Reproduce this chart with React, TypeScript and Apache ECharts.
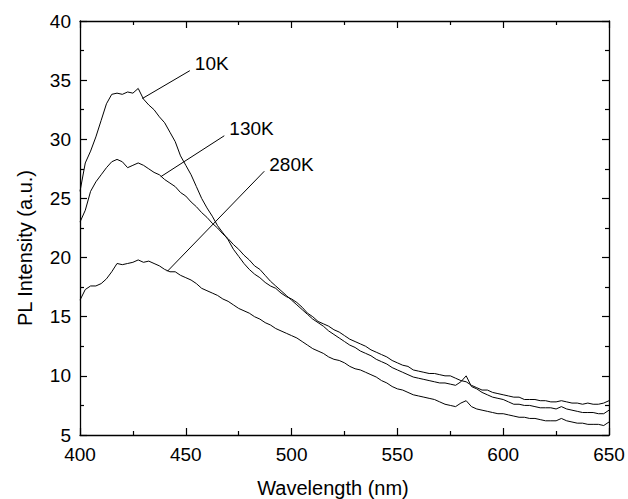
import React, { useEffect, useRef } from "react";
import * as echarts from "echarts";

const wavelengths = [
  400, 402.5, 405, 407.5, 410, 412.5, 415, 417.5, 420, 422.5,
  425, 427.5, 430, 432.5, 435, 437.5, 440, 442.5, 445, 447.5,
  450, 452.5, 455, 457.5, 460, 462.5, 465, 467.5, 470, 472.5,
  475, 477.5, 480, 482.5, 485, 487.5, 490, 492.5, 495, 497.5,
  500, 502.5, 505, 507.5, 510, 512.5, 515, 517.5, 520, 522.5,
  525, 527.5, 530, 532.5, 535, 537.5, 540, 542.5, 545, 547.5,
  550, 552.5, 555, 557.5, 560, 562.5, 565, 567.5, 570, 572.5,
  575, 577.5, 580, 582.5, 585, 587.5, 590, 592.5, 595, 597.5,
  600, 602.5, 605, 607.5, 610, 612.5, 615, 617.5, 620, 622.5,
  625, 627.5, 630, 632.5, 635, 637.5, 640, 642.5, 645, 647.5,
  650,
];

const pl10K = [
  25.6, 28.0, 29.0, 30.2, 31.6, 33.0, 33.8, 33.9, 33.8, 34.0,
  33.9, 34.3, 33.4, 32.9, 32.5, 31.9, 31.4, 30.6, 29.8, 28.6,
  27.8, 27.0, 26.0, 25.0, 24.2, 23.5, 22.7, 22.1, 21.5, 20.7,
  20.1, 19.5, 19.0, 18.6, 18.3, 17.9, 17.6, 17.4, 17.0, 16.7,
  16.5, 16.2, 15.8, 15.3, 15.0, 14.6, 14.4, 14.2, 13.9, 13.7,
  13.4, 13.1, 12.9, 12.7, 12.5, 12.2, 12.0, 11.8, 11.6, 11.3,
  11.1, 10.9, 10.8, 10.5, 10.4, 10.3, 10.2, 10.2, 10.1, 10.0,
  10.0, 9.8, 9.6, 9.5, 9.2, 9.0, 8.8, 8.8, 8.6, 8.5,
  8.4, 8.3, 8.2, 8.2, 8.0, 8.0, 8.0, 7.9, 7.9, 7.8,
  7.8, 7.9, 7.8, 7.7, 7.7, 7.6, 7.7, 7.6, 7.6, 7.7,
  7.9,
];

const pl130K = [
  23.0, 24.0, 25.6, 26.4, 27.0, 27.6, 28.1, 28.3, 28.1, 27.6,
  27.8, 28.0, 27.8, 27.5, 27.2, 27.0, 26.6, 26.3, 26.0, 25.5,
  25.2, 24.7, 24.3, 23.8, 23.4, 22.9, 22.5, 22.0, 21.6, 21.1,
  20.7, 20.2, 19.8, 19.3, 19.0, 18.5, 18.0, 17.6, 17.2, 16.8,
  16.4, 16.0, 15.6, 15.2, 14.8, 14.5, 14.2, 13.8, 13.5, 13.2,
  12.9, 12.6, 12.4, 12.1, 11.9, 11.7, 11.4, 11.2, 11.0, 10.7,
  10.5, 10.3, 10.1, 9.9, 9.8, 9.7, 9.6, 9.5, 9.4, 9.4,
  9.3, 9.2, 9.5, 10.0, 9.1, 8.9, 8.6, 8.4, 8.2, 8.1,
  8.0, 7.8, 7.6, 7.6, 7.5, 7.5, 7.4, 7.3, 7.3, 7.3,
  7.2, 7.4, 7.2, 7.1, 7.0, 6.9, 6.9, 6.9, 6.8, 6.8,
  7.1,
];

const pl280K = [
  16.4, 17.3, 17.6, 17.6, 17.8, 18.2, 18.8, 19.5, 19.4, 19.5,
  19.6, 19.8, 19.6, 19.7, 19.5, 19.3, 19.0, 18.8, 18.8, 18.5,
  18.3, 18.1, 17.8, 17.4, 17.2, 17.0, 16.8, 16.5, 16.3, 16.0,
  15.7, 15.5, 15.3, 15.0, 14.8, 14.5, 14.3, 14.0, 13.8, 13.6,
  13.4, 13.2, 12.9, 12.6, 12.3, 12.1, 11.9, 11.6, 11.4, 11.3,
  11.1, 10.8, 10.6, 10.5, 10.3, 10.1, 9.9, 9.6, 9.4, 9.1,
  8.9, 8.8, 8.6, 8.4, 8.3, 8.2, 8.1, 8.0, 7.8, 7.6,
  7.5, 7.4, 7.7, 7.9, 7.4, 7.2, 7.1, 7.0, 6.9, 6.8,
  6.8, 6.7, 6.6, 6.5, 6.5, 6.4, 6.4, 6.3, 6.2, 6.2,
  6.2, 6.4, 6.2, 6.1, 6.0, 6.0, 5.9, 5.9, 5.9, 5.8,
  6.1,
];

const seriesNames = ["10K", "130K", "280K"];
// leader lines: [label anchor, point on curve]
const leader10K = [[451.9, 35.8], [429.5, 33.45]];
const leader130K = [[468.2, 30.3], [438.2, 26.84]];
const leader280K = [[487.1, 27.3], [441.3, 18.84]];

const xTitle = "Wavelength (nm)";
const yTitle = "PL Intensity (a.u.)";

const FONT = "'Liberation Sans', Arial, sans-serif";

export default function App() {
  const ref = useRef<HTMLDivElement>(null);
  useEffect(() => {
    if (!ref.current) return;
    const chart = echarts.init(ref.current, null, { renderer: "svg" });
    const pair = (ys: number[]) => wavelengths.map((x, i) => [x, ys[i]]);
    const axisLine = { show: true, onZero: false, lineStyle: { color: "#000", width: 1.3 } };
    const axisTick = { show: true, inside: true, length: 7, lineStyle: { color: "#000", width: 1.2 } };
    const minorTick = { show: true, splitNumber: 2, length: 4, lineStyle: { color: "#000", width: 1.2 } };
    const lineSeries = (name: string, ys: number[]) => ({
      name,
      type: "line",
      data: pair(ys),
      showSymbol: false,
      symbol: "none",
      lineStyle: { color: "#000", width: 1 },
      z: 3,
    });
    const leaderSeries = (pts: number[][]) => ({
      type: "line",
      data: pts,
      symbol: "none",
      showSymbol: false,
      lineStyle: { color: "#000", width: 1 },
      z: 4,
    });
    const labelSeries = {
      type: "scatter",
      data: [
        { value: leader10K[0], name: seriesNames[0] },
        { value: leader130K[0], name: seriesNames[1] },
        { value: leader280K[0], name: seriesNames[2] },
      ],
      symbol: "circle",
      symbolSize: 0,
      itemStyle: { color: "#000", opacity: 1 },
      label: {
        show: true,
        formatter: (p: any) => p.name,
        position: "right",
        distance: 5,
        offset: [0, -7],
        color: "#000",
        opacity: 1,
        fontSize: 19,
        fontFamily: FONT,
      },
      emphasis: { disabled: true },
      z: 5,
    };
    chart.setOption({
      animation: false,
      backgroundColor: "#fff",
      grid: { left: 80, right: 19, top: 21, bottom: 64, containLabel: false },
      xAxis: [
        {
          type: "value",
          min: 400,
          max: 650,
          interval: 50,
          axisLine,
          axisTick,
          minorTick,
          splitLine: { show: false },
          axisLabel: { color: "#000", fontSize: 19, fontFamily: FONT, margin: 10 },
        },
        {
          type: "value",
          position: "top",
          min: 400,
          max: 650,
          interval: 50,
          axisLine,
          axisTick,
          minorTick,
          splitLine: { show: false },
          axisLabel: { show: false },
        },
      ],
      yAxis: [
        {
          type: "value",
          min: 5,
          max: 40,
          interval: 5,
          axisLine,
          axisTick,
          minorTick,
          splitLine: { show: false },
          axisLabel: {
            color: "#000",
            fontSize: 19,
            fontFamily: FONT,
            margin: 9,
            padding: [0, 0, 6, 0],
          },
        },
        {
          type: "value",
          position: "right",
          min: 5,
          max: 40,
          interval: 5,
          axisLine,
          axisTick,
          minorTick,
          splitLine: { show: false },
          axisLabel: { show: false },
        },
      ],
      graphic: [
        {
          type: "text",
          x: 333,
          y: 488,
          style: {
            text: xTitle,
            fill: "#000",
            fontSize: 20,
            fontFamily: FONT,
            textAlign: "center",
            textVerticalAlign: "middle",
          },
        },
        {
          type: "text",
          x: 25,
          y: 248,
          rotation: Math.PI / 2,
          style: {
            text: yTitle,
            fill: "#000",
            fontSize: 20,
            fontFamily: FONT,
            textAlign: "center",
            textVerticalAlign: "middle",
          },
        },
      ],
      series: [
        lineSeries(seriesNames[0], pl10K),
        lineSeries(seriesNames[1], pl130K),
        lineSeries(seriesNames[2], pl280K),
        leaderSeries(leader10K),
        leaderSeries(leader130K),
        leaderSeries(leader280K),
        labelSeries,
      ],
    });
    return () => chart.dispose();
  }, []);
  return <div ref={ref} style={{ width: 628, height: 499, position: "absolute", left: 0, top: 0 }} />;
}
